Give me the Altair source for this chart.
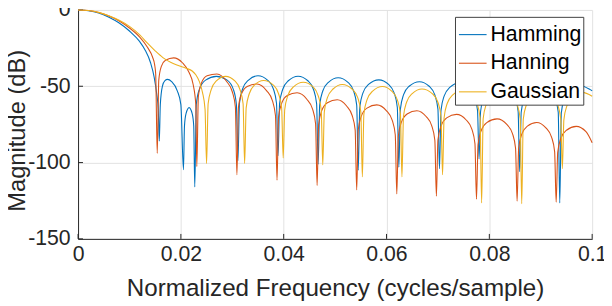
import altair as alt
import pandas as pd

# (frequency in cycles/sample, magnitude in dB)
hamming = [
    (0, 0), (0.002, -0.5), (0.004, -2.0), (0.006, -4.8), (0.008, -8.6), (0.010, -13.8),
    (0.012, -20.8), (0.013, -26), (0.0141, -34.6), (0.0148, -44), (0.0153, -55), (0.0156, -65),
    (0.0158, -86),
    (0.0160, -62), (0.0164, -50), (0.0169, -46.3), (0.0174, -45.5), (0.0182, -47), (0.0193, -53), (0.0200, -62),
    (0.0205, -104.7),
    (0.0207, -76), (0.0210, -68), (0.0216, -64), (0.0222, -68), (0.0225, -76),
    (0.0227, -116),
    (0.0230, -62), (0.0236, -52), (0.0248, -46), (0.0269, -43.5), (0.0290, -46), (0.0302, -52), (0.0308, -62),
    (0.0311, -98.7),
    (0.0314, -61.1), (0.0320, -51.8), (0.0331, -46.1), (0.0350, -43.1), (0.0369, -46.1), (0.0380, -51.8), (0.0386, -61.1),
    (0.0389, -95.5),
    (0.0392, -61.4), (0.0398, -52.1), (0.0409, -46.4), (0.0428, -43.4), (0.0447, -46.4), (0.0458, -52.1), (0.0464, -61.4),
    (0.0467, -101),
    (0.0470, -62.4), (0.0476, -53.1), (0.0487, -47.4), (0.0506, -44.4), (0.0525, -47.4), (0.0536, -53.1), (0.0542, -62.4),
    (0.0545, -105),
    (0.0548, -63.8), (0.0554, -54.5), (0.0565, -48.8), (0.0585, -45.8), (0.0604, -48.8), (0.0615, -54.5), (0.0621, -63.8),
    (0.0624, -103),
    (0.0627, -65), (0.0633, -55.7), (0.0644, -50), (0.0664, -47), (0.0683, -50), (0.0694, -55.7), (0.0700, -65),
    (0.0703, -104),
    (0.0706, -65.8), (0.0712, -56.5), (0.0723, -50.8), (0.0742, -47.8), (0.0760, -50.8), (0.0771, -56.5), (0.0777, -65.8),
    (0.0780, -97.6),
    (0.0783, -66.5), (0.0789, -57.2), (0.0800, -51.5), (0.0820, -48.5), (0.0839, -51.5), (0.0850, -57.2), (0.0856, -66.5),
    (0.0859, -106),
    (0.0862, -67), (0.0868, -57.7), (0.0879, -52), (0.0898, -49), (0.0917, -52), (0.0928, -57.7), (0.0934, -67),
    (0.0937, -126.5),
    (0.0940, -67.5), (0.0946, -58.2), (0.0957, -52.5), (0.0976, -49.5), (0.0995, -52), (0.1, -53),
]

hanning = [
    (0, 0), (0.002, -0.4), (0.004, -1.7), (0.006, -4.0), (0.008, -7.2), (0.010, -11.8),
    (0.012, -17.8), (0.0135, -24.5), (0.0145, -31), (0.0149, -36), (0.0151, -42),
    (0.0154, -94),
    (0.0157, -46), (0.0162, -37), (0.0170, -33), (0.0186, -31.4), (0.0203, -34.6), (0.0216, -41), (0.0224, -49), (0.0229, -62),
    (0.0231, -102.6),
    (0.0234, -56.6), (0.0240, -47.9), (0.0251, -43.1), (0.0270, -42), (0.0289, -46.9), (0.0300, -53.6), (0.0306, -63.5),
    (0.0309, -108),
    (0.0312, -63.8), (0.0318, -55), (0.0329, -50.1), (0.0348, -48.5), (0.0367, -53), (0.0378, -59.4), (0.0384, -69.2),
    (0.0387, -111.5),
    (0.0390, -70.1), (0.0396, -61.2), (0.0407, -56.1), (0.0426, -54.3), (0.0445, -58.5), (0.0456, -64.8), (0.0462, -74.5),
    (0.0465, -115),
    (0.0468, -75), (0.0474, -66), (0.0485, -60.8), (0.0504, -58.8), (0.0522, -62.8), (0.0533, -69), (0.0539, -78.6),
    (0.0542, -118),
    (0.0545, -78.6), (0.0551, -69.6), (0.0562, -64.3), (0.0581, -62.2), (0.0600, -66.1), (0.0611, -72.2), (0.0617, -81.8),
    (0.0620, -120.5),
    (0.0623, -82.6), (0.0629, -73.5), (0.0640, -68.2), (0.0659, -66), (0.0677, -69.8), (0.0688, -75.9), (0.0694, -85.4),
    (0.0697, -122),
    (0.0700, -85.2), (0.0706, -76.1), (0.0717, -70.7), (0.0736, -68.4), (0.0755, -72.1), (0.0766, -78.1), (0.0772, -87.6),
    (0.0775, -124),
    (0.0778, -88.3), (0.0784, -79.2), (0.0795, -73.8), (0.0815, -71.4), (0.0834, -75), (0.0845, -81), (0.0851, -90.6),
    (0.0854, -125.4),
    (0.0857, -90.6), (0.0863, -81.5), (0.0874, -76.1), (0.0892, -73.7), (0.0910, -77.3), (0.0921, -83.3), (0.0927, -92.8),
    (0.0930, -126),
    (0.0933, -93.3), (0.0939, -84.2), (0.0950, -78.8), (0.0969, -76.3), (0.0988, -79.8), (0.1, -87),
]

gaussian = [
    (0, 0), (0.002, -0.4), (0.004, -1.6), (0.006, -3.8), (0.008, -6.8), (0.010, -10.8),
    (0.012, -16.3), (0.0135, -21.8), (0.0150, -26.8), (0.0165, -31.2), (0.0180, -34.3), (0.0195, -36.4),
    (0.0210, -38.2), (0.0222, -40), (0.0229, -42.5), (0.0236, -47), (0.0242, -54), (0.0247, -65),
    (0.0250, -100.6),
    (0.0253, -61.5), (0.0259, -52.2), (0.0269, -46.5), (0.0287, -43.5), (0.0305, -46.5), (0.0315, -52.2), (0.0321, -61.5),
    (0.0324, -100.6),
    (0.0327, -64.2), (0.0333, -54.9), (0.0343, -49.2), (0.0361, -46.2), (0.0380, -49.2), (0.0390, -54.9), (0.0396, -64.2),
    (0.0399, -97),
    (0.0402, -65.4), (0.0408, -56.1), (0.0419, -50.4), (0.0438, -47.4), (0.0457, -50.4), (0.0467, -56.1), (0.0473, -65.4),
    (0.0476, -101.5),
    (0.0479, -66.8), (0.0485, -57.5), (0.0496, -51.8), (0.0514, -48.8), (0.0533, -51.8), (0.0544, -57.5), (0.0550, -66.8),
    (0.0553, -109.4),
    (0.0556, -68.2), (0.0562, -58.9), (0.0573, -53.2), (0.0592, -50.2), (0.0610, -53.2), (0.0621, -58.9), (0.0627, -68.2),
    (0.0630, -109.4),
    (0.0633, -69.8), (0.0639, -60.5), (0.0650, -54.8), (0.0669, -51.8), (0.0689, -54.8), (0.0700, -60.5), (0.0706, -69.8),
    (0.0709, -108),
    (0.0712, -70.6), (0.0718, -61.3), (0.0729, -55.6), (0.0747, -52.6), (0.0765, -55.6), (0.0776, -61.3), (0.0782, -70.6),
    (0.0785, -126.5),
    (0.0788, -71.2), (0.0794, -61.9), (0.0805, -56.2), (0.0824, -53.2), (0.0843, -56.2), (0.0854, -61.9), (0.0860, -71.2),
    (0.0863, -127),
    (0.0866, -71.6), (0.0872, -62.3), (0.0883, -56.6), (0.0902, -53.6), (0.0922, -56.6), (0.0933, -62.3), (0.0939, -71.6),
    (0.0942, -104),
    (0.0945, -72), (0.0951, -62.7), (0.0962, -57), (0.0981, -54), (0.1, -56.5),
]

series_names = ["Hamming", "Hanning", "Gaussian"]
series_colors = ["#0072BD", "#D95319", "#EDB120"]
x_ticks = [0, 0.02, 0.04, 0.06, 0.08, 0.1]
y_ticks = [-150, -100, -50, 0]

FONT = "Liberation Sans"
AX = "#262626"
PLOT_H = 232


def frame(points, name):
    return pd.DataFrame({"f": [p[0] for p in points], "dB": [p[1] for p in points], "series": name})


x_enc = alt.X(
    "f:Q",
    title="Normalized Frequency (cycles/sample)",
    scale=alt.Scale(domain=[0, 0.1], nice=False, zero=False),
    axis=alt.Axis(
        values=x_ticks, format="~g", grid=True, gridColor="#e2e2e2", gridWidth=1,
        ticks=False, domainColor=AX, domainWidth=1, labelFont=FONT, labelFontSize=21.5,
        labelColor=AX, labelPadding=5, labelFlush=False, labelOverlap=False,
        titleFont=FONT, titleFontSize=24.5, titleFontWeight="normal", titleColor=AX,
        titleX=260.5, titleY=57, titleBaseline="alphabetic",
    ),
)
y_enc = alt.Y(
    "dB:Q",
    title="Magnitude (dB)",
    scale=alt.Scale(domain=[-150, 0], nice=False, zero=False),
    axis=alt.Axis(
        values=y_ticks, labelExpr="datum.value == 0 ? '0' : '-' + abs(datum.value)",
        grid=True, gridColor="#e2e2e2", gridWidth=1, ticks=False, domainColor=AX, domainWidth=1,
        labelFont=FONT, labelFontSize=21.5, labelColor=AX, labelPadding=8,
        labelFlush=False, labelOverlap=False,
        titleFont=FONT, titleFontSize=24, titleFontWeight="normal", titleColor=AX,
        titleAngle=270, titleX=-54, titleY=122, titleBaseline="alphabetic",
    ),
)
color_enc = alt.Color(
    "series:N",
    scale=alt.Scale(domain=series_names, range=series_colors),
    legend=alt.Legend(
        title=None, orient="none", legendX=382, legendY=7, symbolType="stroke", symbolSize=784,
        symbolStrokeWidth=1.1, labelFont=FONT, labelFontSize=21.5, labelColor="black",
        labelOffset=3, padding=3, rowPadding=3,
    ),
)

layers = []
for pts, name in [(hamming, "Hamming"), (hanning, "Hanning"), (gaussian, "Gaussian")]:
    layers.append(
        alt.Chart(frame(pts, name))
        .mark_line(strokeWidth=1.1, interpolate="monotone")
        .encode(x=x_enc, y=y_enc, color=color_enc)
    )

ytick_layer = (
    alt.Chart(pd.DataFrame({"dB": y_ticks}))
    .mark_rule(color=AX, strokeWidth=1)
    .encode(y=y_enc, x=alt.value(0), x2=alt.value(5))
)
xtick_layer = (
    alt.Chart(pd.DataFrame({"f": x_ticks}))
    .mark_rule(color=AX, strokeWidth=1)
    .encode(x=x_enc, y=alt.value(PLOT_H), y2=alt.value(PLOT_H - 5))
)
# white legend frame drawn over the curves, under the legend entries
legend_frame = (
    alt.Chart(pd.DataFrame({"k": [0]}))
    .mark_rect(fill="white", stroke="#404040", strokeWidth=1)
    .encode(x=alt.value(382.5), x2=alt.value(512.5), y=alt.value(7.5), y2=alt.value(96.5))
)

chart = (
    alt.layer(ytick_layer, xtick_layer, *layers, legend_frame)
    .properties(
        width=521, height=PLOT_H,
        autosize=alt.AutoSizeParams(type="none"),
        padding={"left": 71, "top": 0, "right": 12, "bottom": 62},
        background="white",
    )
    .configure_view(stroke="transparent")
)

chart.save("out.html", embed_options={"renderer": "svg", "actions": False})
